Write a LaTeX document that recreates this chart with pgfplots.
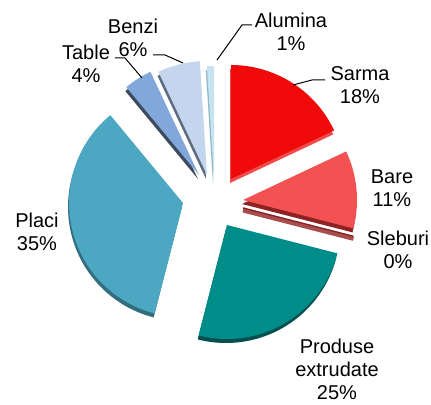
\documentclass[border=0pt]{standalone}
\usepackage{pgfplots}
\pgfplotsset{compat=1.18}
\usepackage{fontspec}
\setmainfont{Liberation Sans}

\definecolor{cAlum}{HTML}{C6E4EF}
\definecolor{sAlum}{HTML}{8FB6C4}
\definecolor{cSarma}{HTML}{F00A0A}
\definecolor{sSarma}{HTML}{F04A4A}
\definecolor{cBare}{HTML}{F25252}
\definecolor{sBare}{HTML}{8E2222}
\definecolor{cSleb}{HTML}{A84E4E}
\definecolor{sSleb}{HTML}{8A2424}
\definecolor{cProd}{HTML}{008D89}
\definecolor{sProd}{HTML}{05504E}
\definecolor{cPlaci}{HTML}{4CA8C2}
\definecolor{sPlaci}{HTML}{336E80}
\definecolor{cTable}{HTML}{82A7DA}
\definecolor{sTable}{HTML}{3E4A5E}
\definecolor{cBenzi}{HTML}{C4D6EE}
\definecolor{sBenzi}{HTML}{5E6C80}

\tikzset{lbl/.style={font=\fontsize{20bp}{23bp}\selectfont, align=center, text=black, inner sep=0pt}}

% pie centre (214,201), radius 114, in picture pixels
\def\cur{90}
% #1 percent, #2,#3 explode offset (px), #4 top colour, #5 side colour
\newcommand{\slice}[5]{%
  \pgfmathsetmacro{\sa}{\cur}%
  \pgfmathsetmacro{\sb}{\cur-3.6*#1}%
  \pgfmathsetmacro{\cx}{214+#2}%
  \pgfmathsetmacro{\cy}{201+#3}%
  \pgfmathsetmacro{\cyy}{\cy-4}%
  \pgfmathsetmacro{\cxx}{\cx-1}%
  \edef\doslice{%
    \noexpand\addplot[fill=#5, draw=none, domain=\sb:\sa, samples=60]
      ({\cxx+114*cos(x)}, {\cyy+114*sin(x)}) -- (axis cs:\cxx,\cyy) -- cycle;
    \noexpand\addplot[fill=#4, draw=none, domain=\sb:\sa, samples=60]
      ({\cx+114*cos(x)}, {\cy+114*sin(x)}) -- (axis cs:\cx,\cy) -- cycle;
  }\doslice
  \xdef\cur{\sb}%
}
% slice of 0 percent: only its side shows
\newcommand{\zslice}[4]{%
  \pgfmathsetmacro{\cx}{214+#1}%
  \pgfmathsetmacro{\cy}{201+#2}%
  \pgfmathsetmacro{\ex}{\cx+114*cos(\cur)}%
  \pgfmathsetmacro{\ey}{\cy+114*sin(\cur)}%
  \pgfmathsetmacro{\cyy}{\cy-2.5}%
  \pgfmathsetmacro{\eyy}{\ey-2.5}%
  \edef\doslice{%
    \noexpand\addplot[draw=#3, line width=4pt] coordinates {(\cx,\cyy) (\ex,\eyy)};
    \noexpand\addplot[draw=#4, line width=1.5pt] coordinates {(\cx,\cy) (\ex,\ey)};
  }\doslice
}

\begin{document}
\begin{tikzpicture}
\begin{axis}[
  width=431bp, height=405bp, scale only axis,
  xmin=0, xmax=431, ymin=0, ymax=405,
  hide axis, clip=false,
]
\slice{18}{17}{25}{cSarma}{sSarma}
\slice{11}{29}{4}{cBare}{sBare}
\zslice{29}{-4}{cSleb}{sSleb}
\slice{25}{13}{-21}{cProd}{sProd}
\slice{35}{-31}{1}{cPlaci}{sPlaci}
\slice{4}{-15}{29}{cTable}{sTable}
\slice{6}{-7}{29}{cBenzi}{sBenzi}
\slice{1}{0}{24}{cAlum}{sAlum}

% leader lines
\addplot[black, line width=1pt] coordinates {(252,380) (242,380) (217,345)};
\addplot[black, line width=1pt] coordinates {(325,325) (312,325) (293,320)};
\addplot[black, line width=1pt] coordinates {(153,350) (165,350) (183,342)};
\addplot[black, line width=1pt] coordinates {(115,347) (125,347) (142,327)};

\node[lbl] at (axis cs:291,373.5) {Alumina\\1\%};
\node[lbl] at (axis cs:360,319.5) {Sarma\\18\%};
\node[lbl] at (axis cs:392,217) {Bare\\11\%};
\node[lbl] at (axis cs:398,155) {Sleburi\\0\%};
\node[lbl] at (axis cs:337,36) {Produse\\extrudate\\25\%};
\node[lbl] at (axis cs:37,173) {Placi\\35\%};
\node[lbl] at (axis cs:86,341.5) {Table\\4\%};
\node[lbl] at (axis cs:133,367.5) {Benzi\\6\%};
\end{axis}
\pgfresetboundingbox
\useasboundingbox (current axis.south west) rectangle (current axis.north east);
\end{tikzpicture}
\end{document}
